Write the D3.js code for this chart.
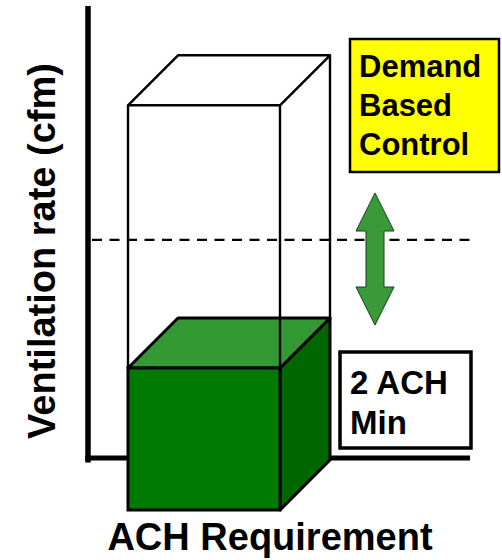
<!DOCTYPE html>
<html>
<head>
<meta charset="utf-8">
<script src="https://cdn.jsdelivr.net/npm/d3@7"></script>
<style>
  html, body { margin: 0; padding: 0; background: #fff; }
  svg { display: block; }
  text { font-family: "Liberation Sans", Arial, sans-serif; font-weight: bold; fill: #000; }
</style>
</head>
<body>
<svg id="chart" width="502" height="560"></svg>
<script>
// Ventilation levels, in air changes per hour
const categories = ["ACH Requirement"];
const minimumRate = [2];      // filled block: the 2 ACH floor
const controlLevel = [3.1];   // dashed reference level
const maximumRate = [5.7];    // outline block: full design ventilation
const calloutLines = ["Demand", "Based", "Control"];
const minLabelLines = ["2 ACH", "Min"];
const yAxisTitle = "Ventilation rate (cfm)";

const svg = d3.select("#chart");

// Back plane of the 3-D blocks sits on the axis; the front face is shifted down/left
const depth = 50;
const y = d3.scaleLinear().domain([0, 6]).range([460, 34]);
const x = d3.scaleBand().domain(categories).range([128, 280]).padding(0);

// Axes (bare lines, no ticks)
const axisX0 = 88, axisX1 = 470, axisTop = 6;
svg.append("line")
  .attr("x1", axisX0).attr("x2", axisX0)
  .attr("y1", axisTop).attr("y2", y(0) + 2.5)
  .attr("stroke", "#000").attr("stroke-width", 5.5);
svg.append("line")
  .attr("x1", axisX0 - 2.75).attr("x2", axisX1)
  .attr("y1", y(0) - 2).attr("y2", y(0) - 2)
  .attr("stroke", "#000").attr("stroke-width", 5);

// Dashed control level
svg.append("line")
  .attr("x1", axisX0 + 4).attr("x2", axisX1)
  .attr("y1", y(controlLevel[0])).attr("y2", y(controlLevel[0]))
  .attr("stroke", "#000").attr("stroke-width", 2.2)
  .attr("stroke-dasharray", "10,7.5");

// Draw one extruded block for each category
categories.forEach((c, i) => {
  const fx0 = x(c), fx1 = x(c) + x.bandwidth();
  const bx0 = fx0 + depth, bx1 = fx1 + depth;
  const base = y(0) + depth;           // front bottom
  const gTopF = y(minimumRate[i]) + depth; // front top of the filled block
  const gTopB = y(minimumRate[i]);         // back top of the filled block
  const g = svg.append("g");

  // Filled minimum block
  g.append("path") // right side
    .attr("d", `M${fx1},${gTopF}L${bx1},${gTopB}L${bx1},${y(0)}L${fx1},${base}Z`)
    .attr("fill", "#006600").attr("stroke", "#000").attr("stroke-width", 3).attr("stroke-linejoin", "round");
  g.append("path") // top
    .attr("d", `M${fx0},${gTopF}L${bx0},${gTopB}L${bx1},${gTopB}L${fx1},${gTopF}Z`)
    .attr("fill", "#339933").attr("stroke", "#000").attr("stroke-width", 3).attr("stroke-linejoin", "round");
  g.append("rect") // front
    .attr("x", fx0).attr("y", gTopF).attr("width", fx1 - fx0).attr("height", base - gTopF)
    .attr("fill", "#007a00").attr("stroke", "#000").attr("stroke-width", 3);

  // Outline of the maximum block (visible edges only)
  const mTopF = y(maximumRate[i]) + depth;
  const mTopB = y(maximumRate[i]);
  g.append("path")
    .attr("d",
      `M${fx0},${gTopF}L${fx0},${mTopF}L${fx1},${mTopF}L${fx1},${gTopF}` +
      `M${fx0},${mTopF}L${bx0},${mTopB}L${bx1},${mTopB}L${fx1},${mTopF}` +
      `M${bx1},${mTopB}L${bx1},${gTopB}`)
    .attr("fill", "none").attr("stroke", "#000").attr("stroke-width", 2.4)
    .attr("stroke-linejoin", "round");
});

// Double-headed arrow showing the controlled range
const ax = 375, aTop = 193, aBot = 325, head = 38, hw = 19, sw = 9;
svg.append("path")
  .attr("d", `M${ax},${aTop}L${ax + hw},${aTop + head}L${ax + sw},${aTop + head}` +
             `L${ax + sw},${aBot - head}L${ax + hw},${aBot - head}L${ax},${aBot}` +
             `L${ax - hw},${aBot - head}L${ax - sw},${aBot - head}L${ax - sw},${aTop + head}` +
             `L${ax - hw},${aTop + head}Z`)
  .attr("fill", "#3a9a3a").attr("stroke", "#1a3a1a").attr("stroke-width", 1);

// Demand-based control callout
svg.append("rect")
  .attr("x", 350).attr("y", 39).attr("width", 149).attr("height", 133)
  .attr("fill", "#ffff00").attr("stroke", "#000").attr("stroke-width", 2.5);
svg.append("text").attr("x", 359).attr("y", 77)
  .attr("font-size", 31)
  .selectAll("tspan").data(calloutLines).join("tspan")
  .attr("x", 359).attr("dy", (d, i) => i === 0 ? 0 : 39).text(d => d);

// Minimum label box
svg.append("rect")
  .attr("x", 340).attr("y", 352).attr("width", 131).attr("height", 96)
  .attr("fill", "#fff").attr("stroke", "#000").attr("stroke-width", 3.5);
svg.append("text").attr("x", 350).attr("y", 394)
  .attr("font-size", 33)
  .selectAll("tspan").data(minLabelLines).join("tspan")
  .attr("x", 350).attr("dy", (d, i) => i === 0 ? 0 : 40).text(d => d);

// Axis titles
svg.append("text")
  .attr("transform", "translate(55,251) rotate(-90)")
  .attr("text-anchor", "middle").attr("font-size", 38)
  .text(yAxisTitle);
svg.append("text")
  .attr("x", 270).attr("y", 550)
  .attr("text-anchor", "middle").attr("font-size", 38)
  .text(categories[0]);
</script>
</body>
</html>
